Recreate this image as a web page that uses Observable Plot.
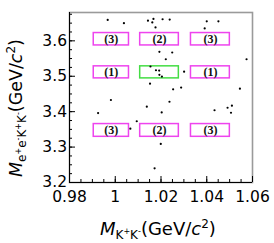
<!DOCTYPE html>
<html><head><meta charset="utf-8">
<script src="https://cdn.jsdelivr.net/npm/d3@7"></script>
<script src="https://cdn.jsdelivr.net/npm/@observablehq/plot@0.6"></script>
<style>body{margin:0;background:#fff} svg{display:block}</style>
</head><body><div id="chart"></div>
<script>
// event positions: M(K+K-) and M(e+e-K+K-) in GeV/c^2
const pointX = [0.9967,1.0038,1.0143,1.0162,1.0167,1.0176,1.0207,1.0238,1.0400,1.0451,1.0391,
  1.0193,1.0249,1.0221,1.0154,1.0178,1.0192,1.0193,1.0204,1.0301,1.0574,1.0152,1.0253,1.0288,1.0545,
  0.9981,0.9925,1.0237,1.0138,1.0203,1.0434,1.0491,1.0510,1.0506,1.0094,1.0066,1.0199,1.0172];
const pointY = [3.659,3.650,3.657,3.652,3.662,3.638,3.661,3.660,3.655,3.655,3.635,
  3.569,3.567,3.548,3.5275,3.517,3.516,3.504,3.499,3.513,3.548,3.479,3.463,3.468,3.465,
  3.433,3.396,3.428,3.414,3.398,3.404,3.411,3.417,3.397,3.373,3.352,3.309,3.240];

// region boxes
const boxXLo = [0.9906, 1.0109, 1.0331];
const boxXHi = [1.0060, 1.0278, 1.0501];
const boxYLo = [3.587, 3.494, 3.329];
const boxYHi = [3.622, 3.528, 3.365];
const boxLabels = [["(3)","(2)","(3)"],["(1)","","(1)"],["(3)","(2)","(3)"]];
const signalRegion = [1, 1]; // row, column

// axes
const xDomain = [0.98, 1.06];
const yDomain = [3.2, 3.68];
const xTicks = [0.98, 1.00, 1.02, 1.04, 1.06];
const xTickLabels = ["0.98", "1", "1.02", "1.04", "1.06"];
const yTicks = [3.2, 3.3, 3.4, 3.5, 3.6];
const yTickLabels = ["3.2", "3.3", "3.4", "3.5", "3.6"];
const xMinorStep = 0.005, yMinorStep = 0.025;

const points = pointX.map((x, i) => ({x, y: pointY[i]}));
const boxes = [];
boxYLo.forEach((ylo, r) => boxXLo.forEach((xlo, c) => boxes.push({
  x1: xlo, x2: boxXHi[c], y1: ylo, y2: boxYHi[r], label: boxLabels[r][c],
  signal: r === signalRegion[0] && c === signalRegion[1]
})));
const xMinor = d3.range(xDomain[0], xDomain[1] + 1e-9, xMinorStep);
const yMinor = d3.range(yDomain[0], yDomain[1] + 1e-9, yMinorStep);

const W = 274, H = 243, mL = 69, mR = 22, mT = 12, mB = 61;
const fw = W - mL - mR, fh = H - mT - mB;
const sans = "'DejaVu Sans', 'Liberation Sans', Arial, sans-serif";

const chart = Plot.plot({
  width: W, height: H,
  marginLeft: mL, marginRight: mR, marginTop: mT, marginBottom: mB,
  x: {domain: xDomain, axis: null},
  y: {domain: yDomain, axis: null},
  style: {fontFamily: sans, background: "white", color: "black", overflow: "visible"},
  marks: [
    Plot.frame({stroke: "#9a9a9a", strokeWidth: 1.6}),
    Plot.ruleX([xDomain[0]], {stroke: "black", strokeWidth: 1}),
    Plot.ruleY([yDomain[0]], {stroke: "black", strokeWidth: 1}),
    Plot.ruleY(yTicks, {y: d => d, insetRight: fw - 6, stroke: "black"}),
    Plot.ruleY(yMinor, {y: d => d, insetRight: fw - 3, stroke: "black"}),
    Plot.ruleX(xTicks, {x: d => d, insetTop: fh - 6, stroke: "black"}),
    Plot.ruleX(xMinor, {x: d => d, insetTop: fh - 3, stroke: "black"}),
    Plot.text(yTicks, {y: d => d, frameAnchor: "left", text: (d, i) => yTickLabels[i], textAnchor: "end", dx: -2.5, fontSize: 15.5}),
    Plot.text(xTicks, {x: d => d, frameAnchor: "bottom", text: (d, i) => xTickLabels[i], dy: 19.5, fontSize: 15.5}),
    Plot.rect(boxes, {x1: "x1", x2: "x2", y1: "y1", y2: "y2", fill: "none",
      stroke: d => d.signal ? "#44dd44" : "#ee44ee", strokeWidth: 1.5}),
    Plot.text(boxes, {x: d => (d.x1 + d.x2) / 2, y: d => (d.y1 + d.y2) / 2, text: "label",
      fontFamily: "'Liberation Serif', 'Times New Roman', serif", fontWeight: "bold", fontSize: 12, fill: "#111"}),
    Plot.dot(points, {x: "x", y: "y", r: 1.1, fill: "black", stroke: "none"})
  ]
});
document.getElementById("chart").appendChild(chart);

function richText(parent, segs, size) {
  const t = parent.append("text").attr("font-size", size).attr("fill", "black")
    .attr("font-family", sans).attr("text-anchor", "start");
  let cur = 0;
  segs.forEach(s => {
    const sp = t.append("tspan").text(s.t).attr("dy", s.off - cur);
    if (s.size) sp.attr("font-size", s.size);
    if (s.it) sp.attr("font-style", "italic");
    cur = s.off;
  });
  return t;
}
const svg = d3.select(chart);
const xt = svg.append("g").attr("transform", "translate(100,235)");
richText(xt, [
  {t: "M", it: true, off: 0}, {t: "K", size: 12, off: 4}, {t: "+", size: 8, off: -1},
  {t: "K", size: 12, off: 4}, {t: "-", size: 8, off: -1},
  {t: "(GeV/", off: 0}, {t: "c", it: true, off: 0}, {t: "2", size: 12, off: -7}, {t: ")", off: 0}
], 18);
const yt = svg.append("g").attr("transform", "translate(22,177) rotate(-90)");
richText(yt, [
  {t: "M", it: true, off: 0}, {t: "e", size: 12, off: 4}, {t: "+", size: 8, off: -1},
  {t: "e", size: 12, off: 4}, {t: "-", size: 8, off: -1},
  {t: "K", size: 12, off: 4}, {t: "+", size: 8, off: -1},
  {t: "K", size: 12, off: 4}, {t: "-", size: 8, off: -1},
  {t: "(GeV/", off: 0}, {t: "c", it: true, off: 0}, {t: "2", size: 12, off: -7}, {t: ")", off: 0}
], 17.5);
</script>
</body></html>
